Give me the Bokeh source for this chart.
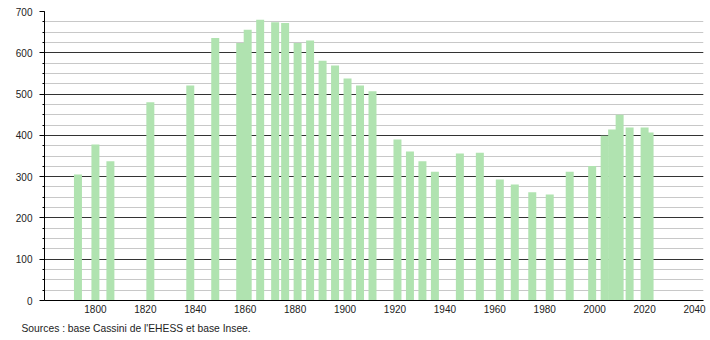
from bokeh.plotting import figure
from bokeh.models import ColumnDataSource, Range1d, SingleIntervalTicker, FixedTicker, Title
from bokeh.embed import file_html
from bokeh.resources import INLINE

years = [1793, 1800, 1806, 1822, 1838, 1848, 1858, 1861, 1866, 1872, 1876, 1881,
         1886, 1891, 1896, 1901, 1906, 1911, 1921, 1926, 1931, 1936, 1946, 1954,
         1962, 1968, 1975, 1982, 1990, 1999, 2004, 2007, 2010, 2014, 2020, 2022]
population = [305, 378, 337, 480, 521, 636, 624, 656, 680, 674, 672, 624,
              630, 581, 569, 538, 521, 507, 390, 361, 337, 312, 356, 358,
              293, 281, 262, 257, 312, 326, 399, 414, 450, 419, 419, 407]
x_ticks = [1800, 1820, 1840, 1860, 1880, 1900, 1920, 1940, 1960, 1980, 2000, 2020, 2040]
source_text = "Sources : base Cassini de l'EHESS et base Insee."

src = ColumnDataSource(dict(x=years, top=population))

p = figure(width=710, height=340, output_backend="svg", toolbar_location=None,
           x_range=Range1d(1779.6, 2043.6), y_range=Range1d(0, 700),
           min_border_left=44, min_border_right=7, min_border_top=11,
           min_border_bottom=40)
p.outline_line_color = None
p.background_fill_color = "white"

p.vbar(x="x", top="top", bottom=0, width=3.2, source=src,
       fill_color="#b0e3b0", line_color=None)

# x axis
p.xaxis.ticker = FixedTicker(ticks=x_ticks)
p.xaxis.major_tick_out = 0
p.xaxis.major_tick_in = 0
p.xaxis.minor_tick_out = 0
p.xaxis.axis_line_color = "black"
p.xaxis.major_label_standoff = 4
p.xaxis.major_label_text_font = "Liberation Sans"
p.xaxis.major_label_text_font_size = "10px"
p.xaxis.major_label_text_color = "#222222"

# y axis
p.yaxis.ticker = SingleIntervalTicker(interval=100, num_minor_ticks=4)
p.yaxis.major_tick_out = 5
p.yaxis.major_tick_in = 0
p.yaxis.minor_tick_out = 2
p.yaxis.minor_tick_in = 0
p.yaxis.axis_line_color = "black"
p.yaxis.major_tick_line_color = "black"
p.yaxis.minor_tick_line_color = "black"
p.yaxis.major_label_standoff = 7
p.yaxis.major_label_text_font = "Liberation Sans"
p.yaxis.major_label_text_font_size = "10px"
p.yaxis.major_label_text_color = "#222222"

p.xgrid.visible = False
p.ygrid.grid_line_color = "#333333"
p.ygrid.minor_grid_line_color = "#c8c8c8"
p.ygrid.level = "underlay"

src_title = Title(text=source_text, align="left", offset=-23,
                  text_font="Liberation Sans", text_font_size="10.3px",
                  text_font_style="normal", text_color="#222222", standoff=11)
p.add_layout(src_title, "below")

open("out.html", "w").write(file_html(p, INLINE))
